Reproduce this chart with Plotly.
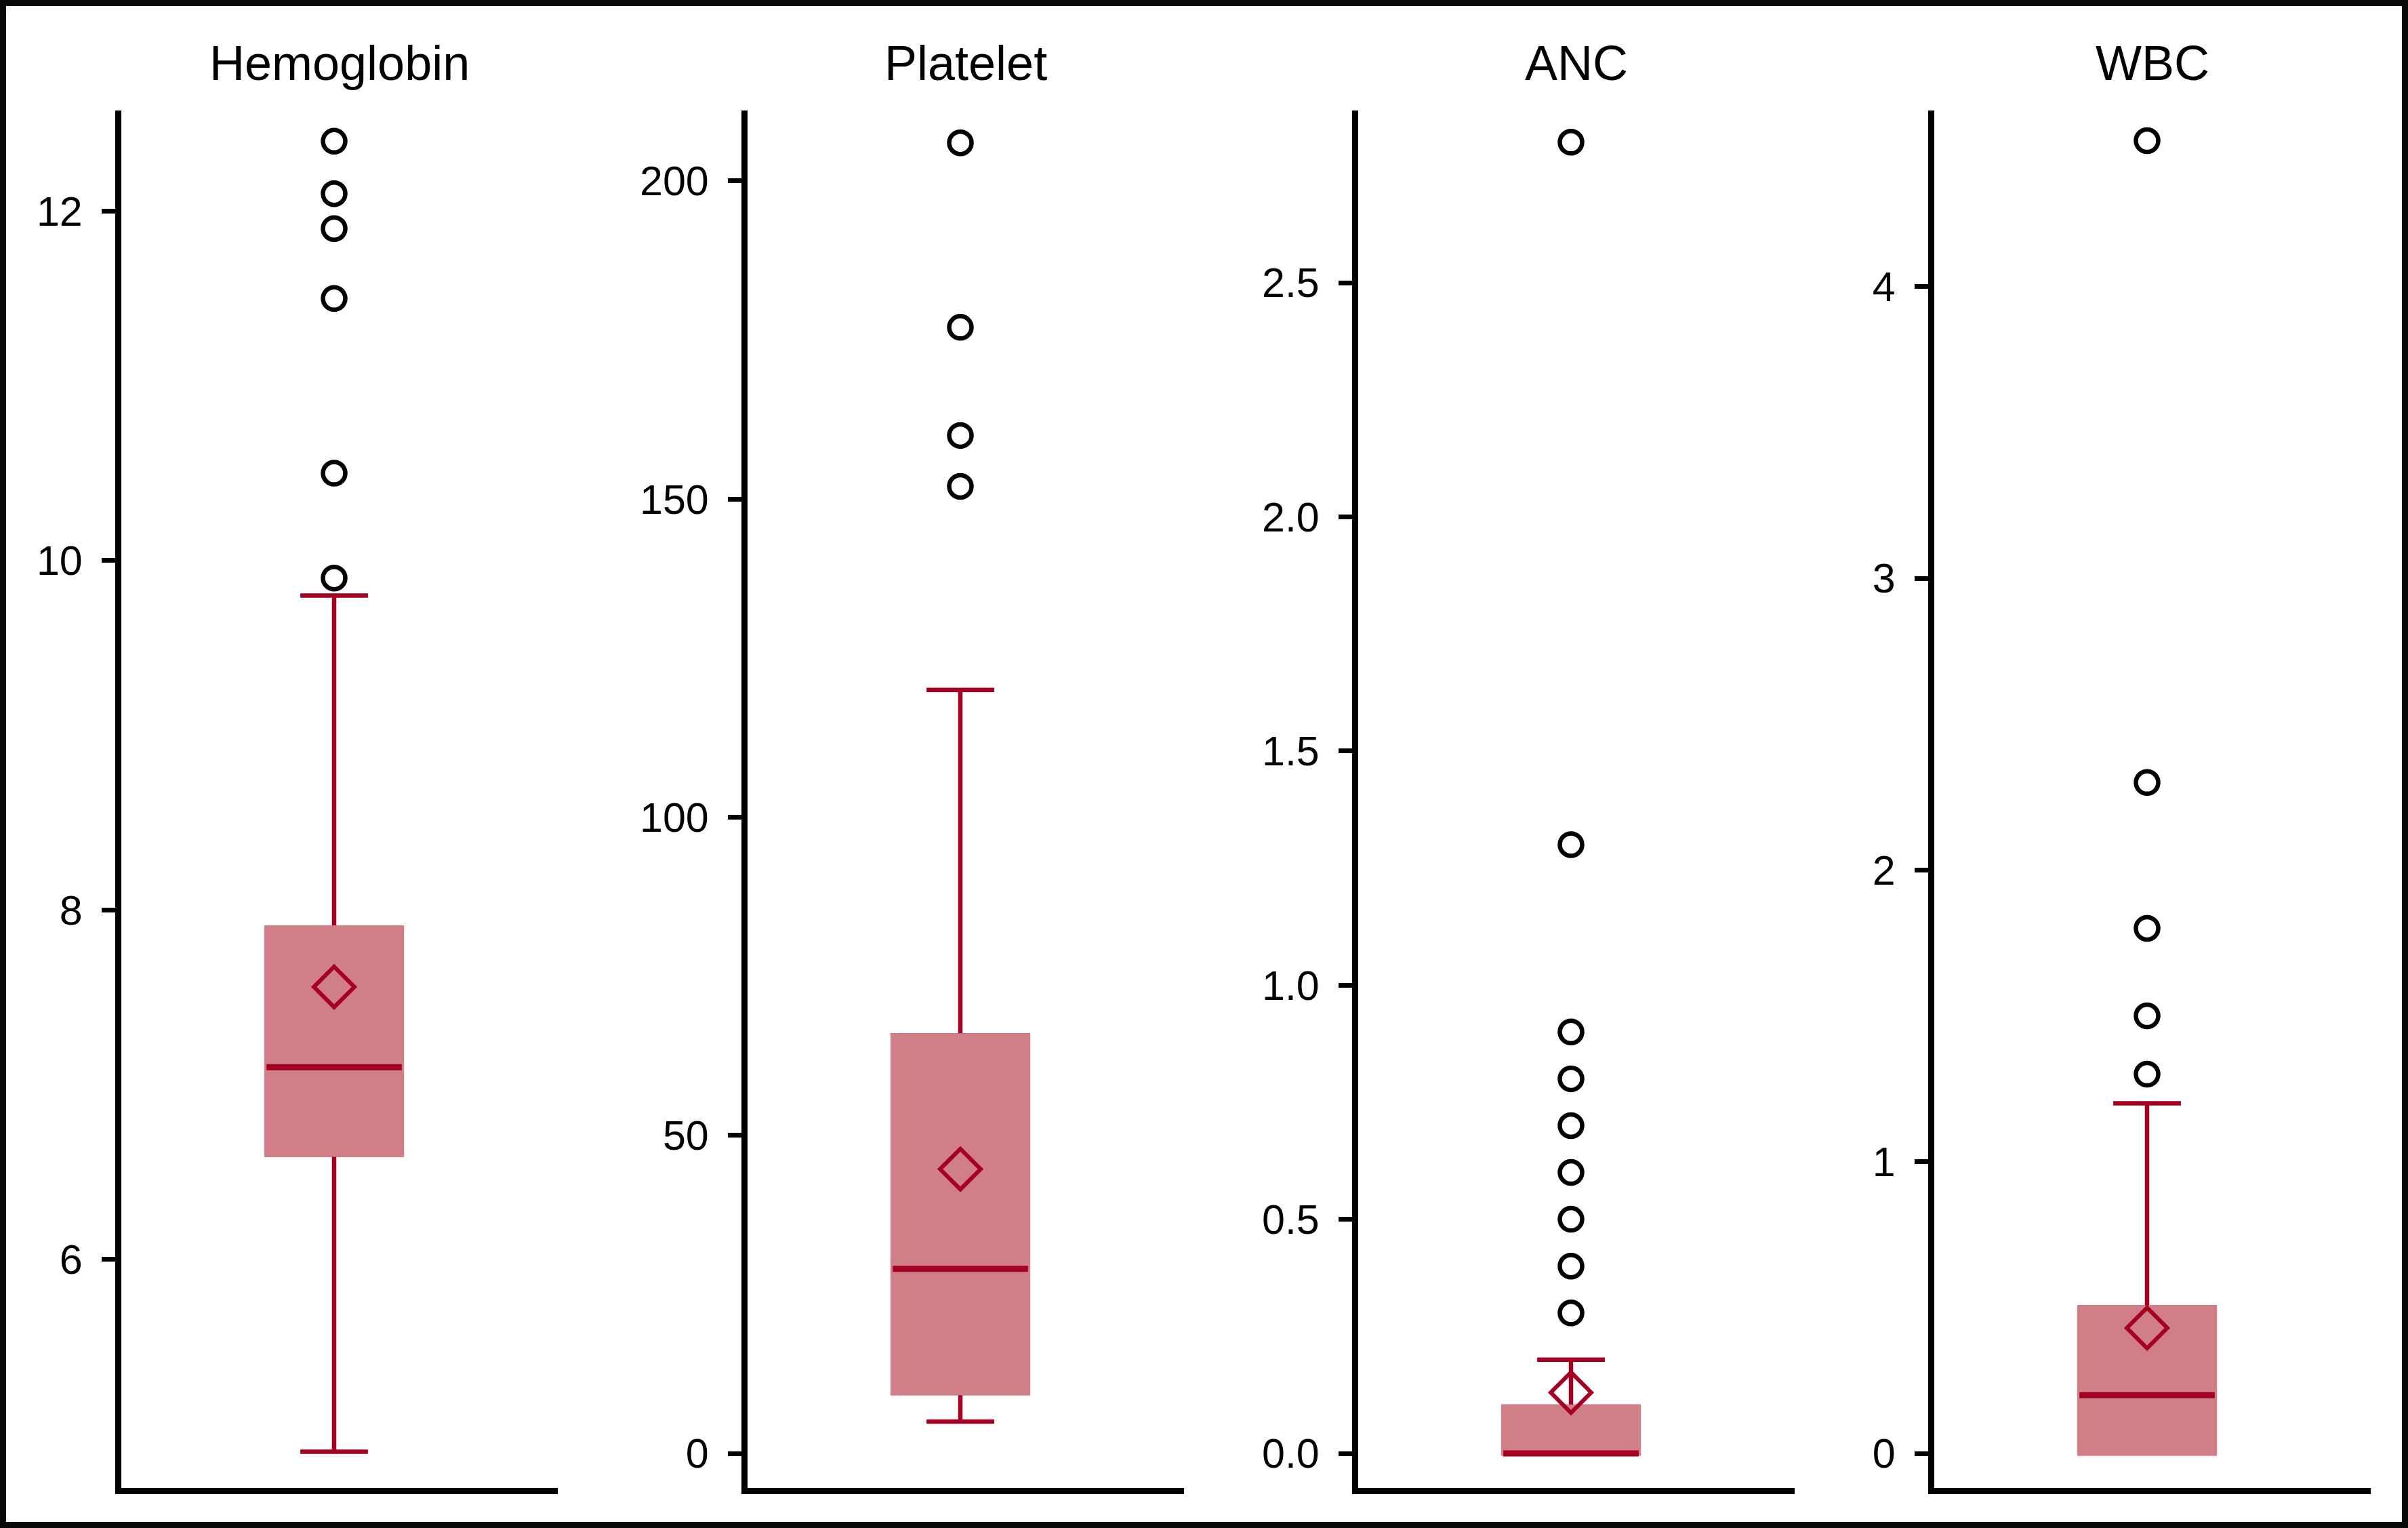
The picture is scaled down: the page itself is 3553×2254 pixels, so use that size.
import plotly.graph_objects as go

# ---------------- data ----------------
panels = ["Hemoglobin", "Platelet", "ANC", "WBC"]

q1_vals = [6.6, 9.5, 0.0, 0.0]
median_vals = [7.1, 29.0, 0.0, 0.2]
q3_vals = [7.9, 65.7, 0.1, 0.5]
lower_fence = [4.9, 5.0, 0.0, 0.0]
upper_fence = [9.8, 120.0, 0.2, 1.2]
mean_vals = [7.56, 44.7, 0.13, 0.43]

outliers_hemoglobin = [9.9, 10.5, 11.5, 11.9, 12.1, 12.4]
outliers_platelet = [152, 160, 177, 206]
outliers_anc = [0.3, 0.4, 0.5, 0.6, 0.7, 0.8, 0.9, 1.3, 2.8]
outliers_wbc = [1.3, 1.5, 1.8, 2.3, 4.5]
outliers = [outliers_hemoglobin, outliers_platelet, outliers_anc, outliers_wbc]

tickvals_hemoglobin = [6, 8, 10, 12]
ticktext_hemoglobin = ["6", "8", "10", "12"]
tickvals_platelet = [0, 50, 100, 150, 200]
ticktext_platelet = ["0", "50", "100", "150", "200"]
tickvals_anc = [0, 0.5, 1.0, 1.5, 2.0, 2.5]
ticktext_anc = ["0.0", "0.5", "1.0", "1.5", "2.0", "2.5"]
tickvals_wbc = [0, 1, 2, 3, 4]
ticktext_wbc = ["0", "1", "2", "3", "4"]
tickvals = [tickvals_hemoglobin, tickvals_platelet, tickvals_anc, tickvals_wbc]
ticktexts = [ticktext_hemoglobin, ticktext_platelet, ticktext_anc, ticktext_wbc]

y_ranges = [[4.692, 12.576], [-5.43, 211.08], [-0.0738, 2.8677], [-0.1185, 4.6035]]

# ---------------- style ----------------
W, H = 3553, 2254
DARK = "#A50021"
PINK = "#D07F89"
FONT = "Liberation Sans, Arial, Helvetica, sans-serif"

panel_left_px = [179, 1103, 2004, 2854]
panel_w_px = 644
plot_top_px = 163
plot_bottom_px = 2195
box_width = 0.31
x_range = [-0.4876, 0.5124]

fig = go.Figure()

for i, name in enumerate(panels):
    n = "" if i == 0 else str(i + 1)
    xa, ya = "x" + n, "y" + n
    cat = [name]

    # whiskers + caps (dark red)
    fig.add_trace(go.Box(
        x=cat, q1=[q1_vals[i]], median=[median_vals[i]], q3=[q3_vals[i]],
        lowerfence=[lower_fence[i]], upperfence=[upper_fence[i]],
        width=box_width, whiskerwidth=0.5, boxpoints=False,
        line=dict(color=DARK, width=6.5), fillcolor=PINK,
        xaxis=xa, yaxis=ya, hoverinfo="skip", showlegend=False,
    ))
    # pink box body without dark outline
    fig.add_trace(go.Box(
        x=cat, q1=[q1_vals[i]], median=[q1_vals[i]], q3=[q3_vals[i]],
        lowerfence=[q1_vals[i]], upperfence=[q3_vals[i]],
        width=box_width, whiskerwidth=0, boxpoints=False,
        line=dict(color=PINK, width=6.5), fillcolor=PINK,
        xaxis=xa, yaxis=ya, hoverinfo="skip", showlegend=False,
    ))
    # median line
    m = median_vals[i]
    fig.add_trace(go.Box(
        x=cat, q1=[m], median=[m], q3=[m], lowerfence=[m], upperfence=[m],
        width=box_width, whiskerwidth=0, boxpoints=False,
        line=dict(color=DARK, width=9), fillcolor=DARK,
        xaxis=xa, yaxis=ya, hoverinfo="skip", showlegend=False,
    ))
    # mean diamond
    fig.add_trace(go.Scatter(
        x=cat, y=[mean_vals[i]], mode="markers",
        marker=dict(symbol="diamond-open", size=46, color=DARK,
                    line=dict(color=DARK, width=6)),
        xaxis=xa, yaxis=ya, hoverinfo="skip", showlegend=False,
    ))
    # outliers
    fig.add_trace(go.Scatter(
        x=cat * len(outliers[i]), y=outliers[i], mode="markers",
        marker=dict(symbol="circle-open", size=33, color="black",
                    line=dict(color="black", width=6.5)),
        xaxis=xa, yaxis=ya, hoverinfo="skip", showlegend=False,
    ))

    x0 = panel_left_px[i] / W
    x1 = (panel_left_px[i] + panel_w_px) / W
    y0 = (H - plot_bottom_px) / H
    y1 = (H - plot_top_px) / H
    fig.layout["xaxis" + n] = dict(
        domain=[x0, x1], anchor=ya, type="category", range=x_range,
        showticklabels=False, ticks="", showgrid=False, zeroline=False,
        showline=True, linecolor="black", linewidth=9, fixedrange=True,
    )
    fig.layout["yaxis" + n] = dict(
        domain=[y0, y1], anchor=xa, range=y_ranges[i],
        tickmode="array", tickvals=tickvals[i], ticktext=ticktexts[i],
        ticks="outside", ticklen=20, tickwidth=7, tickcolor="black",
        ticklabelstandoff=16,
        tickfont=dict(family=FONT, size=61, color="black"),
        showgrid=False, zeroline=False,
        showline=True, linecolor="black", linewidth=9, fixedrange=True,
    )
    fig.add_annotation(
        text=name, xref="paper", yref="paper",
        x=(panel_left_px[i] + panel_w_px / 2) / W, y=(H - 93) / H,
        xanchor="center", yanchor="middle", showarrow=False,
        font=dict(family=FONT, size=72, color="black"),
    )

# outer frame
fig.add_shape(type="rect", xref="paper", yref="paper",
              x0=4.5 / W, x1=1 - 4.5 / W, y0=4.5 / H, y1=1 - 4.5 / H,
              line=dict(color="#0a0a0a", width=9), layer="above")

fig.update_layout(
    width=W, height=H, margin=dict(l=0, r=0, t=0, b=0, pad=0),
    paper_bgcolor="white", plot_bgcolor="white", showlegend=False,
    boxmode="overlay", font=dict(family=FONT, color="black"),
)

fig.write_html("out.html", config={"displayModeBar": False},
               post_script="document.body.style.margin='0';")
